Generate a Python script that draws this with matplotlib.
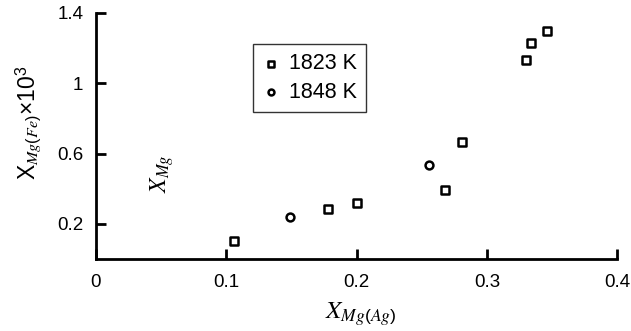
import matplotlib.pyplot as plt

plt.rcParams['font.family'] = ['Liberation Sans', 'DejaVu Sans']
plt.rcParams['mathtext.fontset'] = 'custom'
plt.rcParams['mathtext.rm'] = 'Liberation Sans'
plt.rcParams['mathtext.it'] = 'STIXGeneral:italic'

# data
x_1823 = [0.106, 0.178, 0.200, 0.268, 0.281, 0.330, 0.334, 0.346]
y_1823 = [0.103, 0.286, 0.320, 0.394, 0.663, 1.131, 1.229, 1.297]
x_1848 = [0.149, 0.256]
y_1848 = [0.240, 0.537]

x_ticks = [0, 0.1, 0.2, 0.3, 0.4]
x_tick_labels = ['0', '0.1', '0.2', '0.3', '0.4']
y_ticks = [0.2, 0.6, 1.0, 1.4]
y_tick_labels = ['0.2', '0.6', '1', '1.4']

fig = plt.figure(figsize=(6.31, 3.31), dpi=100)
ax = fig.add_axes([0.152, 0.2175, 0.826, 0.7435])

ax.scatter(x_1823, y_1823, marker='s', s=36, facecolors='white',
           edgecolors='black', linewidths=1.8, label='1823 K', zorder=3)
ax.scatter(x_1848, y_1848, marker='o', s=32, facecolors='white',
           edgecolors='black', linewidths=1.8, label='1848 K', zorder=3)

ax.set_xlim(0, 0.4)
ax.set_ylim(0, 1.4)
ax.set_xticks(x_ticks)
ax.set_xticklabels(x_tick_labels)
ax.set_yticks(y_ticks)
ax.set_yticklabels(y_tick_labels)
ax.tick_params(direction='in', length=7, width=2, labelsize=13.5, pad=11)
ax.tick_params(axis='y', pad=9)

for side in ['top', 'right']:
    ax.spines[side].set_visible(False)
for side in ['left', 'bottom']:
    ax.spines[side].set_linewidth(2)

leg = ax.legend(loc='upper left', bbox_to_anchor=(0.302, 0.872), fontsize=15.5,
                frameon=True, fancybox=False, edgecolor='black',
                handletextpad=0.45, borderpad=0.42, labelspacing=0.35,
                handlelength=0.8, markerscale=0.75, borderaxespad=0)
leg.get_frame().set_linewidth(1)

fig.text(0.045, 0.63, r'X$_{Mg(Fe)}$$\times$10$^3$', rotation=90,
         ha='center', va='center', fontsize=16.5)
fig.text(0.257, 0.475, r'$X_{Mg}$', rotation=90, ha='center', va='center',
         fontsize=17)
fig.text(0.572, 0.05, r'$X_{Mg(Ag)}$', ha='center', va='center', fontsize=18)

fig.savefig('out.png', dpi=100)
